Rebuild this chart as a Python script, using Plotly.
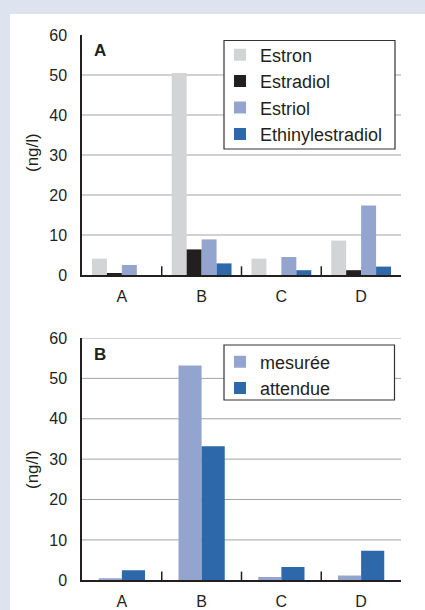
import plotly.graph_objects as go

# ---------------- data ----------------
categories = ["A", "B", "C", "D"]

estron = [4.1, 50.5, 4.1, 8.6]
estradiol = [0.4, 6.4, 0.0, 1.2]
estriol = [2.5, 8.9, 4.5, 17.4]
ethinylestradiol = [0.0, 2.9, 1.2, 2.1]

mesuree = [0.5, 53.2, 0.8, 1.2]
attendue = [2.5, 33.2, 3.3, 7.3]

y_ticks = [0, 10, 20, 30, 40, 50, 60]
grid_top = [10, 20, 30, 40, 50]
grid_bottom = [10, 20, 30, 40, 50, 60]

# ---------------- style ----------------
W, H = 425, 610
FONT = "Liberation Sans, Arial, Helvetica, sans-serif"
TXT = "#231f20"
C_ESTRON = "#d3d4d6"
C_ESTRADIOL = "#231f20"
C_ESTRIOL = "#93a5cf"
C_ETHINYL = "#2d68ab"

def px_x(x):
    return x / W

def px_y(y):
    return (H - y) / H

fig = go.Figure()

top_series = [
    ("Estron", estron, C_ESTRON),
    ("Estradiol", estradiol, C_ESTRADIOL),
    ("Estriol", estriol, C_ESTRIOL),
    ("Ethinylestradiol", ethinylestradiol, C_ETHINYL),
]
for name, vals, col in top_series:
    fig.add_trace(go.Bar(x=categories, y=vals, name=name, marker_color=col,
                         marker_line_width=0, xaxis="x", yaxis="y",
                         legend="legend", legendgroup=name))

bw = 0.29
fig.add_trace(go.Bar(x=categories, y=mesuree, name="mesurée", marker_color=C_ESTRIOL,
                     marker_line_width=0, xaxis="x2", yaxis="y2", width=bw, offset=-bw,
                     legend="legend2", legendgroup="m"))
fig.add_trace(go.Bar(x=categories, y=attendue, name="attendue", marker_color=C_ETHINYL,
                     marker_line_width=0, xaxis="x2", yaxis="y2", width=bw, offset=0,
                     legend="legend2", legendgroup="a"))

xdom = [px_x(82), px_x(401)]
top_dom = [px_y(275), px_y(35)]
bot_dom = [px_y(580.3), px_y(338)]

xaxis_common = dict(
    domain=xdom, type="category", showline=True, linecolor=TXT, linewidth=1.5,
    ticks="", showgrid=False, tickfont=dict(size=16, color=TXT, family=FONT),
    ticklabelstandoff=6, fixedrange=True, automargin=False,
)
yaxis_common = dict(
    range=[0, 60], tickvals=y_ticks, showline=True, linecolor=TXT, linewidth=1.5,
    ticks="", showgrid=False, zeroline=False, automargin=False,
    tickfont=dict(size=16, color=TXT, family=FONT), ticklabelstandoff=10,
)

shapes = [
    dict(type="rect", xref="paper", yref="paper", x0=px_x(10), x1=1.0,
         y0=0, y1=px_y(14), fillcolor="white", line_width=0, layer="below"),
]
for g in grid_top:
    shapes.append(dict(type="line", xref="x domain", yref="y", x0=0, x1=1, y0=g, y1=g,
                       line=dict(color="#a3a3a3", width=1), layer="below"))
for g in grid_bottom:
    shapes.append(dict(type="line", xref="x2 domain", yref="y2", x0=0, x1=1, y0=g, y1=g,
                       line=dict(color="#a3a3a3", width=1), layer="below"))
for i in range(len(categories) - 1):
    shapes.append(dict(type="line", xref="x", yref="y domain", x0=i + 0.5, x1=i + 0.5,
                       y0=0, y1=0.036, line=dict(color=TXT, width=1.5)))
    shapes.append(dict(type="line", xref="x2", yref="y2 domain", x0=i + 0.5, x1=i + 0.5,
                       y0=0, y1=0.036, line=dict(color=TXT, width=1.5)))
# legend frames
shapes.append(dict(type="rect", xref="paper", yref="paper", x0=px_x(224), x1=px_x(395),
                   y0=px_y(149), y1=px_y(40.5), fillcolor="white",
                   line=dict(color="#333333", width=1.2), layer="above"))
shapes.append(dict(type="rect", xref="paper", yref="paper", x0=px_x(224), x1=px_x(394.5),
                   y0=px_y(400), y1=px_y(345), fillcolor="white",
                   line=dict(color="#333333", width=1.2), layer="above"))

annotations = [
    dict(text="<b>A</b>", x=px_x(99.5), y=px_y(51), xref="paper", yref="paper",
         xanchor="center", yanchor="middle",
         showarrow=False, font=dict(size=17, color=TXT, family=FONT)),
    dict(text="<b>B</b>", x=px_x(100), y=px_y(354), xref="paper", yref="paper",
         xanchor="center", yanchor="middle",
         showarrow=False, font=dict(size=17, color=TXT, family=FONT)),
    dict(text="(ng/l)", x=px_x(32), y=px_y(152), xref="paper", yref="paper",
         xanchor="center", yanchor="middle",
         showarrow=False, textangle=-90, font=dict(size=17, color=TXT, family=FONT)),
    dict(text="(ng/l)", x=px_x(32), y=px_y(469), xref="paper", yref="paper",
         xanchor="center", yanchor="middle",
         showarrow=False, textangle=-90, font=dict(size=17, color=TXT, family=FONT)),
]

legend_common = dict(
    xanchor="left", yanchor="top", bgcolor="rgba(0,0,0,0)",
    borderwidth=0, font=dict(size=18, color=TXT, family=FONT),
    tracegroupgap=1, traceorder="normal",
)

fig.update_layout(
    width=W, height=H, autosize=False,
    margin=dict(l=0, r=0, t=0, b=0, pad=0, autoexpand=False),
    paper_bgcolor="#dde3ef", plot_bgcolor="rgba(0,0,0,0)",
    font=dict(family=FONT, color=TXT),
    barmode="group", bargap=0.25, bargroupgap=0,
    xaxis=dict(**xaxis_common, anchor="y"),
    yaxis=dict(**yaxis_common, domain=top_dom, anchor="x"),
    xaxis2=dict(**xaxis_common, anchor="y2"),
    yaxis2=dict(**yaxis_common, domain=bot_dom, anchor="x2"),
    legend=dict(**legend_common, x=px_x(220), y=px_y(36.5)),
    legend2=dict(**legend_common, x=px_x(220), y=px_y(343.5)),
    shapes=shapes, annotations=annotations,
    showlegend=True,
)

fig.write_html(
    "out.html",
    config={"displayModeBar": False, "responsive": False},
    post_script="document.body.style.margin='0';document.body.style.overflow='hidden';",
)
